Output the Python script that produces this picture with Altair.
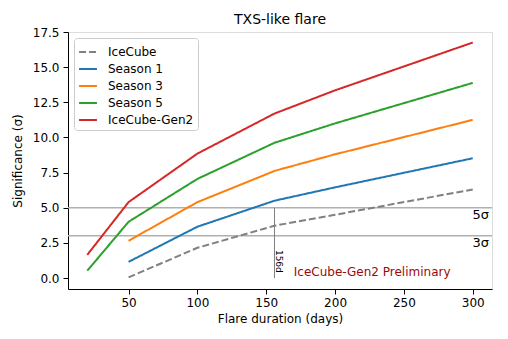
import altair as alt
import pandas as pd

series_names = ["IceCube", "Season 1", "Season 3", "Season 5", "IceCube-Gen2"]
series_colors = ["#808080", "#1f77b4", "#ff7f0e", "#2ca02c", "#d62728"]

dur_icecube = [50, 100, 156, 200, 300]
sig_icecube = [0.05, 2.15, 3.72, 4.5, 6.3]
dur_season1 = [50, 100, 156, 200, 300]
sig_season1 = [1.15, 3.65, 5.5, 6.45, 8.52]
dur_season3 = [50, 100, 156, 200, 300]
sig_season3 = [2.65, 5.4, 7.62, 8.8, 11.25]
dur_season5 = [20, 50, 100, 156, 200, 300]
sig_season5 = [0.52, 4.0, 7.05, 9.62, 11.0, 13.88]
dur_gen2 = [20, 50, 100, 156, 200, 300]
sig_gen2 = [1.65, 5.4, 8.85, 11.7, 13.35, 16.75]

x_ticks = [50, 100, 150, 200, 250, 300]
y_ticks = [0.0, 2.5, 5.0, 7.5, 10.0, 12.5, 15.0, 17.5]

thresholds = [5, 3]
threshold_labels = ["5σ", "3σ"]
flare_marker = 156
flare_label = "156d"
watermark = "IceCube-Gen2 Preliminary"

rows = []
for name, ds, ss in [
    ("IceCube", dur_icecube, sig_icecube),
    ("Season 1", dur_season1, sig_season1),
    ("Season 3", dur_season3, sig_season3),
    ("Season 5", dur_season5, sig_season5),
    ("IceCube-Gen2", dur_gen2, sig_gen2),
]:
    for d, s in zip(ds, ss):
        rows.append({"series": name, "duration": d, "sig": s})
df = pd.DataFrame(rows)

FONT = "DejaVu Sans"
xscale = alt.Scale(domain=[6, 314], nice=False, zero=False)
yscale = alt.Scale(domain=[-0.78, 17.5], nice=False, zero=False)

xax = alt.Axis(values=x_ticks, title="Flare duration (days)", grid=False,
               tickSize=5, labelPadding=3, titlePadding=5, domainColor="black",
               tickColor="black", labelColor="black", labelFontSize=12,
               titleFontSize=12, titleFontWeight="normal", labelFont=FONT,
               titleFont=FONT, titleColor="black", labelFlush=False,
               labelOverlap=False)
yax = alt.Axis(values=y_ticks, format=".1f", title="Significance (σ)", grid=False,
               tickSize=5, labelPadding=4, titlePadding=8, domainColor="black",
               tickColor="black", labelColor="black", labelFontSize=12,
               titleFontSize=12, titleFontWeight="normal", labelFont=FONT,
               titleFont=FONT, titleColor="black", labelFlush=False,
               labelOverlap=False)

X = lambda f: alt.X(f, scale=xscale, axis=xax)
Y = lambda f: alt.Y(f, scale=yscale, axis=yax)

thr_df = pd.DataFrame({"y": thresholds, "label": threshold_labels})
hrules = alt.Chart(thr_df).mark_rule(color="#b0b0b0", strokeWidth=1.5).encode(
    y=Y("y:Q")
)
thr_text = alt.Chart(thr_df).mark_text(
    align="right", baseline="top", font=FONT, fontSize=13, dy=1
).encode(
    x=alt.value(421),
    y=Y("y:Q"),
    text="label:N",
)

vdf = pd.DataFrame({"x": [flare_marker], "y": [0], "y2": [5]})
vrule = alt.Chart(vdf).mark_rule(color="#808080", strokeWidth=1).encode(
    x=X("x:Q"),
    y=Y("y:Q"),
    y2="y2:Q",
)
vtext_df = pd.DataFrame({"x": [flare_marker], "y": [2.0], "t": [flare_label]})
vtext = alt.Chart(vtext_df).mark_text(
    angle=90, align="left", baseline="bottom", font=FONT, fontSize=9, dx=0
).encode(
    x=X("x:Q"),
    y=Y("y:Q"),
    text="t:N",
)

wm_df = pd.DataFrame({"x": [170], "y": [0.15], "t": [watermark]})
wm = alt.Chart(wm_df).mark_text(
    align="left", baseline="alphabetic", font=FONT, fontSize=12, color="#9b0a0a"
).encode(
    x=X("x:Q"),
    y=Y("y:Q"),
    text="t:N",
)

lines = alt.Chart(df).mark_line(strokeWidth=2).encode(
    x=X("duration:Q"),
    y=Y("sig:Q"),
    color=alt.Color("series:N", scale=alt.Scale(domain=series_names, range=series_colors),
                    sort=series_names,
                    legend=alt.Legend(title=None, orient="top-left", offset=6,
                                      fillColor="white", strokeColor="#cccccc",
                                      cornerRadius=3, padding=4, symbolType="stroke",
                                      symbolSize=320, symbolStrokeWidth=2,
                                      labelFontSize=12, labelFont=FONT,
                                      labelColor="black", rowPadding=1,
                                      labelOffset=10)),
    strokeDash=alt.StrokeDash("series:N",
                              scale=alt.Scale(domain=series_names,
                                              range=[[7, 3], [1, 0], [1, 0], [1, 0], [1, 0]]),
                              sort=series_names, legend=None),
    detail="series:N",
)

chart = alt.layer(hrules, thr_text, vrule, vtext, wm, lines).properties(
    width=424, height=257,
    title=alt.TitleParams("TXS-like flare", font=FONT, fontSize=14,
                          fontWeight="normal", color="black", offset=-1),
    autosize=alt.AutoSizeParams(type="none"),
    padding={"left": 60, "top": 24, "right": 8, "bottom": 40},
).configure_view(stroke="black", strokeWidth=1).configure(background="white")

chart.save("out.html", embed_options={"renderer": "svg", "actions": False})
